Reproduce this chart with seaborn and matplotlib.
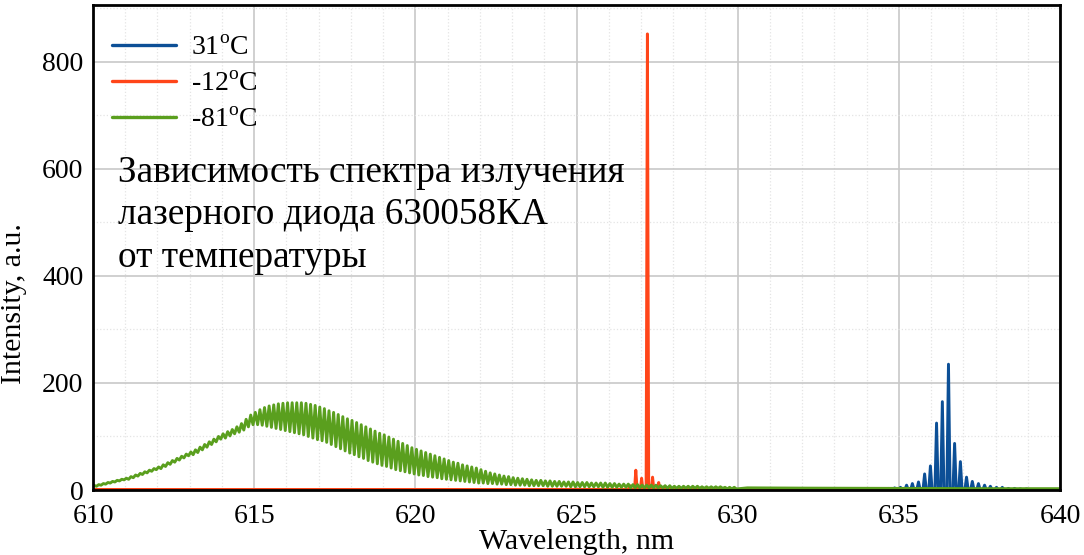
import numpy as np
import pandas as pd
import seaborn as sns
import matplotlib.pyplot as plt
from matplotlib.ticker import MultipleLocator

#series names and colours
labels = [r'31$^{\rm o}$C', r'-12$^{\rm o}$C', r'-81$^{\rm o}$C']
colors = ['#0c4f96', '#ff4519', '#5a9f1e']

#31C - mode comb around 636.5 nm
blue_peak_nm = [634.49, 634.68, 634.87, 635.05, 635.24, 635.42, 635.61, 635.80, 635.98,
                636.17, 636.35, 636.54, 636.73, 636.91, 637.10, 637.28, 637.47, 637.66,
                637.84, 638.03, 638.21, 638.40, 638.59, 638.77, 638.96]
blue_peak_val = [2, 3, 4, 5, 9, 12, 15, 30, 45, 125, 165, 235, 87, 53, 24, 16, 12, 9,
                 7, 5, 5, 3, 3, 2, 2]
blue_base = 1.0

#-12C - single mode at 627.2 nm
red_peak_nm = [626.66, 626.84, 627.02, 627.20, 627.36, 627.55, 627.73]
red_peak_val = [8, 37, 22, 852, 24, 14, 6]
red_base = 1.0

#-81C - broad spectrum with fringes, 7 fringes per nm (max / min), 610..630 nm
green_start = 7.5
green_hi = [
    [8.5, 10, 12, 14, 16, 18, 20],
    [22, 25, 28, 31, 34, 37, 40],
    [43, 47, 51, 55, 59, 63, 67],
    [71, 75, 80, 85, 90, 95, 100],
    [105, 109, 113, 118, 124, 132, 140],
    [145, 150, 154, 157, 159, 161, 162],
    [163, 163, 163, 163, 162, 160, 158],
    [155, 152, 148, 145, 141, 137, 133],
    [130, 126, 122, 118, 114, 110, 106],
    [103, 99, 95, 91, 87, 83, 79],
    [76, 73, 70, 67, 64, 61, 58],
    [55, 52, 50, 47, 45, 43, 41],
    [38, 35, 32, 30, 28, 26, 25],
    [23, 22, 21, 20, 19, 18, 18],
    [17, 17, 16, 16, 15, 15, 15],
    [14, 14, 14, 13, 13, 13, 13],
    [12, 12, 11, 11, 11, 10, 10],
    [9, 9, 9, 9, 8, 8, 8],
    [7, 7, 7, 7, 7, 7, 6],
    [6, 6, 6, 6, 5, 5, 5],
]
green_lo = [
    [7, 9, 11, 13, 15, 17, 19],
    [20, 23, 26, 29, 32, 35, 38],
    [40, 44, 48, 52, 56, 60, 64],
    [66, 70, 75, 80, 85, 90, 95],
    [97, 101, 105, 108, 112, 118, 122],
    [122, 121, 119, 117, 115, 113, 111],
    [109, 107, 105, 103, 100, 97, 94],
    [92, 89, 85, 81, 77, 73, 69],
    [66, 62, 59, 55, 52, 49, 46],
    [44, 41, 38, 36, 34, 32, 30],
    [28, 27, 25, 24, 23, 21, 20],
    [19, 18, 17, 16, 15, 14, 13],
    [13, 12, 12, 11, 11, 10, 10],
    [9, 9, 9, 8, 8, 8, 8],
    [7, 7, 7, 7, 7, 6, 6],
    [6, 6, 6, 6, 6, 5, 5],
    [5, 5, 5, 5, 4, 4, 4],
    [4, 4, 4, 4, 4, 3, 3],
    [3, 3, 3, 3, 3, 3, 3],
    [3, 3, 3, 3, 2, 2, 2],
]
green_tail_nm = [630.3, 632.0, 635.0, 638.0, 640.0]
green_tail_val = [4, 3.5, 3, 2.5, 2.5]

title_text = 'Зависимость спектра излучения\nлазерного диода 630058КА\nот температуры'


#building line points
def spikes(nm, val, base, half=0.05):
    x = [610.0]
    y = [base]
    for c, v in zip(nm, val):
        x += [c - half, c, c + half]
        y += [base, v, base]
    x.append(640.0)
    y.append(base)
    return x, y

bx, by = spikes(blue_peak_nm, blue_peak_val, blue_base)
rx, ry = spikes(red_peak_nm, red_peak_val, red_base, half=0.04)

gx = [610.0]
gy = [green_start]
for i, (hi, lo) in enumerate(zip(green_hi, green_lo)):
    n = 610 + i
    for k in range(7):
        gx += [n + (k + 0.25) / 7, n + (k + 0.75) / 7]
        gy += [hi[k], lo[k]]
gx += green_tail_nm
gy += green_tail_val

df = pd.concat([
    pd.DataFrame({'nm': bx, 'I': by, 'T': labels[0]}),
    pd.DataFrame({'nm': rx, 'I': ry, 'T': labels[1]}),
    pd.DataFrame({'nm': gx, 'I': gy, 'T': labels[2]}),
], ignore_index=True)

#style
sns.set_theme(style='white')
plt.rcParams['font.family'] = ['Liberation Serif', 'DejaVu Serif']
plt.rcParams['mathtext.fontset'] = 'custom'
plt.rcParams['mathtext.rm'] = 'Liberation Serif'
for key in ['text.color', 'axes.labelcolor', 'xtick.color', 'ytick.color']:
    plt.rcParams[key] = 'black'

fig = plt.figure(figsize=(10.84, 5.55), dpi=100)
ax = fig.add_axes([93 / 1084, 65 / 555, 967 / 1084, 485 / 555])

sns.lineplot(data=df, x='nm', y='I', hue='T', hue_order=labels, palette=colors,
             sort=False, estimator=None, lw=2.1, ax=ax)

ax.set_xlim(610, 640)
ax.set_ylim(0, 906)
ax.xaxis.set_major_locator(MultipleLocator(5))
ax.xaxis.set_minor_locator(MultipleLocator(1))
ax.yaxis.set_major_locator(MultipleLocator(200))
ax.yaxis.set_minor_locator(MultipleLocator(100))

ax.grid(which='major', color='#c8c8c8', lw=1.2, ls='-')
ax.grid(which='minor', color='#e4e4e4', lw=0.9, ls=':')
ax.set_axisbelow(True)

ax.tick_params(which='major', direction='in', length=10, width=1.8, labelsize=20, pad=7)
ax.tick_params(axis='x', which='major', pad=10)
ax.tick_params(which='minor', direction='in', length=5, width=1.5)
for s in ax.spines.values():
    s.set_linewidth(2)
    s.set_color('black')

ax.set_xlabel('Wavelength, nm', fontsize=21.5, labelpad=0)
ax.set_ylabel('Intensity, a.u.', fontsize=21.5, labelpad=8)
ax.yaxis.set_label_coords(-0.068, 0.385)

ax.text(0.026, 0.69, title_text, transform=ax.transAxes, fontsize=26.8,
        va='top', ha='left', linespacing=1.3)

leg = ax.legend(loc='upper left', bbox_to_anchor=(0.008, 0.96), frameon=False,
                fontsize=20, handlelength=2.3, labelspacing=0.38, borderaxespad=0,
                handletextpad=0.55)
for line in leg.get_lines():
    line.set_linewidth(2.4)

fig.savefig('out.png', dpi=100)
